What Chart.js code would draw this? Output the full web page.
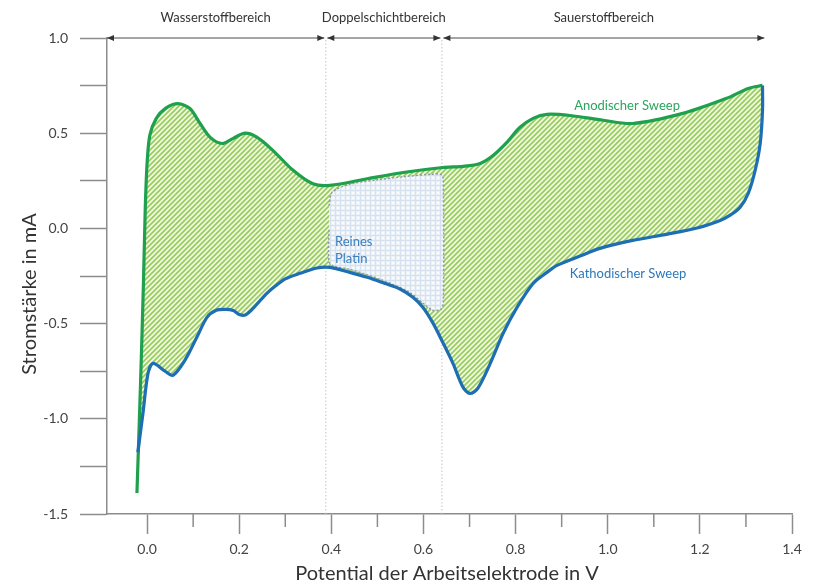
<!DOCTYPE html>
<html>
<head>
<meta charset="utf-8">
<script src="https://cdn.jsdelivr.net/npm/chart.js@4.4.1/dist/chart.umd.min.js"></script>
<style>
  html, body { margin: 0; padding: 0; background: #fff; }
  #wrap { width: 818px; height: 584px; }
</style>
</head>
<body>
<div id="wrap"><canvas id="cv" width="818" height="584"></canvas></div>
<script>
// Anodischer Sweep (gruen): Potential in V, Strom in mA
const anodicV = [-0.022, -0.014, -0.008, -0.004, 0.000, 0.006, 0.020, 0.040, 0.067, 0.093, 0.115, 0.137, 0.163, 0.187, 0.213, 0.239, 0.273, 0.317, 0.360, 0.397, 0.480, 0.560, 0.642, 0.686, 0.723, 0.751, 0.781, 0.809, 0.838, 0.868, 0.918, 0.990, 1.054, 1.163, 1.258, 1.305, 1.336];
const anodicI = [-1.39, -0.80, -0.30, 0.10, 0.34, 0.49, 0.578, 0.630, 0.655, 0.630, 0.551, 0.478, 0.446, 0.473, 0.500, 0.478, 0.410, 0.305, 0.234, 0.226, 0.262, 0.295, 0.320, 0.326, 0.341, 0.383, 0.452, 0.530, 0.578, 0.599, 0.593, 0.568, 0.551, 0.604, 0.683, 0.735, 0.751];

// Kathodischer Sweep (blau), laeuft zurueck
const cathodicV = [1.336, 1.336, 1.331, 1.320, 1.305, 1.287, 1.265, 1.244, 1.194, 1.130, 1.054, 0.983, 0.940, 0.890, 0.868, 0.838, 0.803, 0.773, 0.745, 0.718, 0.701, 0.686, 0.664, 0.643, 0.621, 0.599, 0.577, 0.549, 0.515, 0.478, 0.440, 0.397, 0.369, 0.332, 0.300, 0.280, 0.260, 0.230, 0.213, 0.200, 0.187, 0.170, 0.150, 0.130, 0.108, 0.082, 0.056, 0.039, 0.013, 0.002, -0.009, -0.020];
const cathodicI = [0.751, 0.620, 0.446, 0.305, 0.184, 0.110, 0.068, 0.042, 0.002, -0.030, -0.063, -0.105, -0.145, -0.194, -0.231, -0.289, -0.415, -0.551, -0.709, -0.840, -0.867, -0.835, -0.709, -0.604, -0.499, -0.415, -0.362, -0.318, -0.288, -0.257, -0.231, -0.205, -0.208, -0.236, -0.265, -0.300, -0.341, -0.420, -0.455, -0.452, -0.431, -0.425, -0.430, -0.467, -0.572, -0.693, -0.772, -0.750, -0.709, -0.762, -0.972, -1.176];

// Bereich "Reines Platin" (geschlossene Kontur)
const platinV = [0.395, 0.402, 0.440, 0.500, 0.560, 0.620, 0.640, 0.643, 0.643, 0.638, 0.620, 0.600, 0.570, 0.512, 0.440, 0.405, 0.395, 0.395];
const platinI = [0.120, 0.190, 0.232, 0.255, 0.272, 0.285, 0.280, 0.240, -0.390, -0.425, -0.430, -0.395, -0.336, -0.273, -0.215, -0.198, -0.175, 0.000];

// Bereiche oben
const regionBounds = [-0.087, 0.388, 0.640, 1.34];
const regionNames = ['Wasserstoffbereich', 'Doppelschichtbereich', 'Sauerstoffbereich'];
const dividerV = [0.388, 0.640];
const xMinorTicks = [0.1, 0.3, 0.5, 0.7, 0.9, 1.1, 1.3];

const axisGrey = '#8c8c8c';
const greenLine = '#1ea04c';
const blueLine = '#1e6eb4';

const pts = (xs, ys) => xs.map((v, i) => ({ x: v, y: ys[i] }));

function makeStripes() {
  const s = 5;
  const c = document.createElement('canvas');
  c.width = c.height = s;
  const g = c.getContext('2d');
  g.fillStyle = '#f2f8e2';
  g.fillRect(0, 0, s, s);
  g.strokeStyle = '#98cc5e';
  g.lineWidth = 1.7;
  g.beginPath();
  g.moveTo(0, s); g.lineTo(s, 0);
  g.moveTo(-1, 1); g.lineTo(1, -1);
  g.moveTo(s - 1, s + 1); g.lineTo(s + 1, s - 1);
  g.stroke();
  return g.createPattern(c, 'repeat');
}

function makeChecker() {
  const s = 5;
  const c = document.createElement('canvas');
  c.width = c.height = s;
  const g = c.getContext('2d');
  g.fillStyle = '#edf2f8';
  g.fillRect(0, 0, s, s);
  g.fillStyle = '#d5e1ee';
  g.fillRect(0, 0, s, 1);
  g.fillRect(0, 0, 1, s);
  g.fillStyle = '#fbfcfe';
  g.fillRect(2, 2, 2, 2);
  return g.createPattern(c, 'repeat');
}

const loopPts = pts(anodicV, anodicI).concat(pts(cathodicV, cathodicI));

const dividerSets = dividerV.map(v => ({
  data: [{ x: v, y: -1.5 }, { x: v, y: 1.0 }],
  showLine: true, borderColor: '#c4c4c4', borderWidth: 1, borderDash: [1.5, 2],
  pointRadius: 0, fill: false, order: 5
}));

const decor = {
  id: 'decor',
  afterDraw(chart) {
    const { ctx, scales: { x, y } } = chart;
    ctx.save();

    // kurze Zwischenstriche auf der x-Achse
    ctx.strokeStyle = axisGrey;
    ctx.lineWidth = 1.5;
    xMinorTicks.forEach(v => {
      const px = x.getPixelForValue(v);
      ctx.beginPath();
      ctx.moveTo(px, y.bottom);
      ctx.lineTo(px, y.bottom + 13);
      ctx.stroke();
    });

    // Pfeile der Bereiche
    const ay = y.getPixelForValue(1.0);
    ctx.strokeStyle = '#4a4a4a';
    ctx.fillStyle = '#333';
    ctx.lineWidth = 1;
    for (let i = 0; i < regionNames.length; i++) {
      const x0 = x.getPixelForValue(regionBounds[i]) + (i === 0 ? 0 : 1.5);
      const x1 = x.getPixelForValue(regionBounds[i + 1]) - (i === regionNames.length - 1 ? 0 : 1.5);
      ctx.beginPath();
      ctx.moveTo(x0, ay);
      ctx.lineTo(x1, ay);
      ctx.stroke();
      ctx.beginPath();
      ctx.moveTo(x0, ay); ctx.lineTo(x0 + 7, ay - 3); ctx.lineTo(x0 + 7, ay + 3); ctx.closePath();
      ctx.moveTo(x1, ay); ctx.lineTo(x1 - 7, ay - 3); ctx.lineTo(x1 - 7, ay + 3); ctx.closePath();
      ctx.fill();

      ctx.font = '13px Lato';
      ctx.textAlign = 'center';
      ctx.textBaseline = 'middle';
      ctx.fillText(regionNames[i], (x0 + x1) / 2, 18);
    }

    // Kurvenbeschriftungen
    ctx.font = '13px Lato';
    ctx.textBaseline = 'middle';
    ctx.textAlign = 'center';
    ctx.fillStyle = '#2aa65c';
    ctx.fillText('Anodischer Sweep', x.getPixelForValue(1.042), y.getPixelForValue(0.646));
    ctx.fillStyle = '#2b78bd';
    ctx.fillText('Kathodischer Sweep', x.getPixelForValue(1.044), y.getPixelForValue(-0.236));
    ctx.textAlign = 'left';
    ctx.fillStyle = '#3a7fbf';
    ctx.fillText('Reines', x.getPixelForValue(0.408), y.getPixelForValue(-0.068));
    ctx.fillText('Platin', x.getPixelForValue(0.408), y.getPixelForValue(-0.158));

    // Achsentitel
    ctx.fillStyle = '#333';
    ctx.font = '20px Lato';
    ctx.textAlign = 'center';
    ctx.textBaseline = 'alphabetic';
    ctx.fillText('Potential der Arbeitselektrode in V', 447, 580);
    ctx.translate(36, 294);
    ctx.rotate(-Math.PI / 2);
    ctx.fillText('Stromstärke in mA', 0, 0);

    ctx.restore();
  }
};

const isMajorX = v => Math.round(v * 10) % 2 === 0;
const isMajorY = v => Math.abs(v * 2 - Math.round(v * 2)) < 1e-6;

new Chart(document.getElementById('cv'), {
  type: 'scatter',
  data: {
    datasets: [
      { label: 'Kathodischer Sweep', data: pts(cathodicV, cathodicI), showLine: true,
        borderColor: blueLine, borderWidth: 3.2, pointRadius: 0, tension: 0.3, fill: false, order: 0 },
      { label: 'Anodischer Sweep', data: pts(anodicV, anodicI), showLine: true,
        borderColor: greenLine, borderWidth: 3.2, pointRadius: 0, tension: 0.3, fill: false, order: 1 },
      { label: 'Reines Platin', data: pts(platinV, platinI), showLine: true,
        borderColor: '#8d98a4', borderWidth: 1.5, borderDash: [2, 2], backgroundColor: makeChecker(),
        fill: 'shape', pointRadius: 0, tension: 0.3, order: 2 },
      { label: 'Ladung', data: loopPts, showLine: true,
        borderColor: 'rgba(0,0,0,0)', borderWidth: 1, backgroundColor: makeStripes(),
        fill: 'shape', pointRadius: 0, tension: 0.3, order: 3 },
      ...dividerSets
    ]
  },
  options: {
    responsive: false,
    animation: false,
    layout: { padding: { left: 0, right: 26, top: 38, bottom: 0 } },
    plugins: { legend: { display: false }, tooltip: { enabled: false } },
    scales: {
      x: {
        type: 'linear', min: -0.087, max: 1.4,
        afterFit: s => { s.height = 70; },
        border: { display: true, color: axisGrey, width: 1.5 },
        grid: { drawOnChartArea: false, tickLength: 20, tickWidth: 1.5,
          tickColor: c => (c.tick && isMajorX(c.tick.value)) ? axisGrey : 'rgba(0,0,0,0)' },
        ticks: { stepSize: 0.1, includeBounds: false, autoSkip: false, maxRotation: 0, padding: 7,
          color: '#444', font: { family: 'Lato', size: 14 },
          callback: v => isMajorX(v) ? v.toFixed(1) : '' }
      },
      y: {
        type: 'linear', min: -1.5, max: 1.0,
        afterFit: s => { s.width = 107; },
        border: { display: true, color: axisGrey, width: 1.5 },
        grid: { drawOnChartArea: false, tickLength: 27, tickWidth: 1.5, tickColor: axisGrey },
        ticks: { stepSize: 0.25, includeBounds: false, autoSkip: false, padding: 12,
          color: '#444', font: { family: 'Lato', size: 14 },
          callback: v => isMajorY(v) ? v.toFixed(1) : '' }
      }
    }
  },
  plugins: [decor]
});
</script>
</body>
</html>
